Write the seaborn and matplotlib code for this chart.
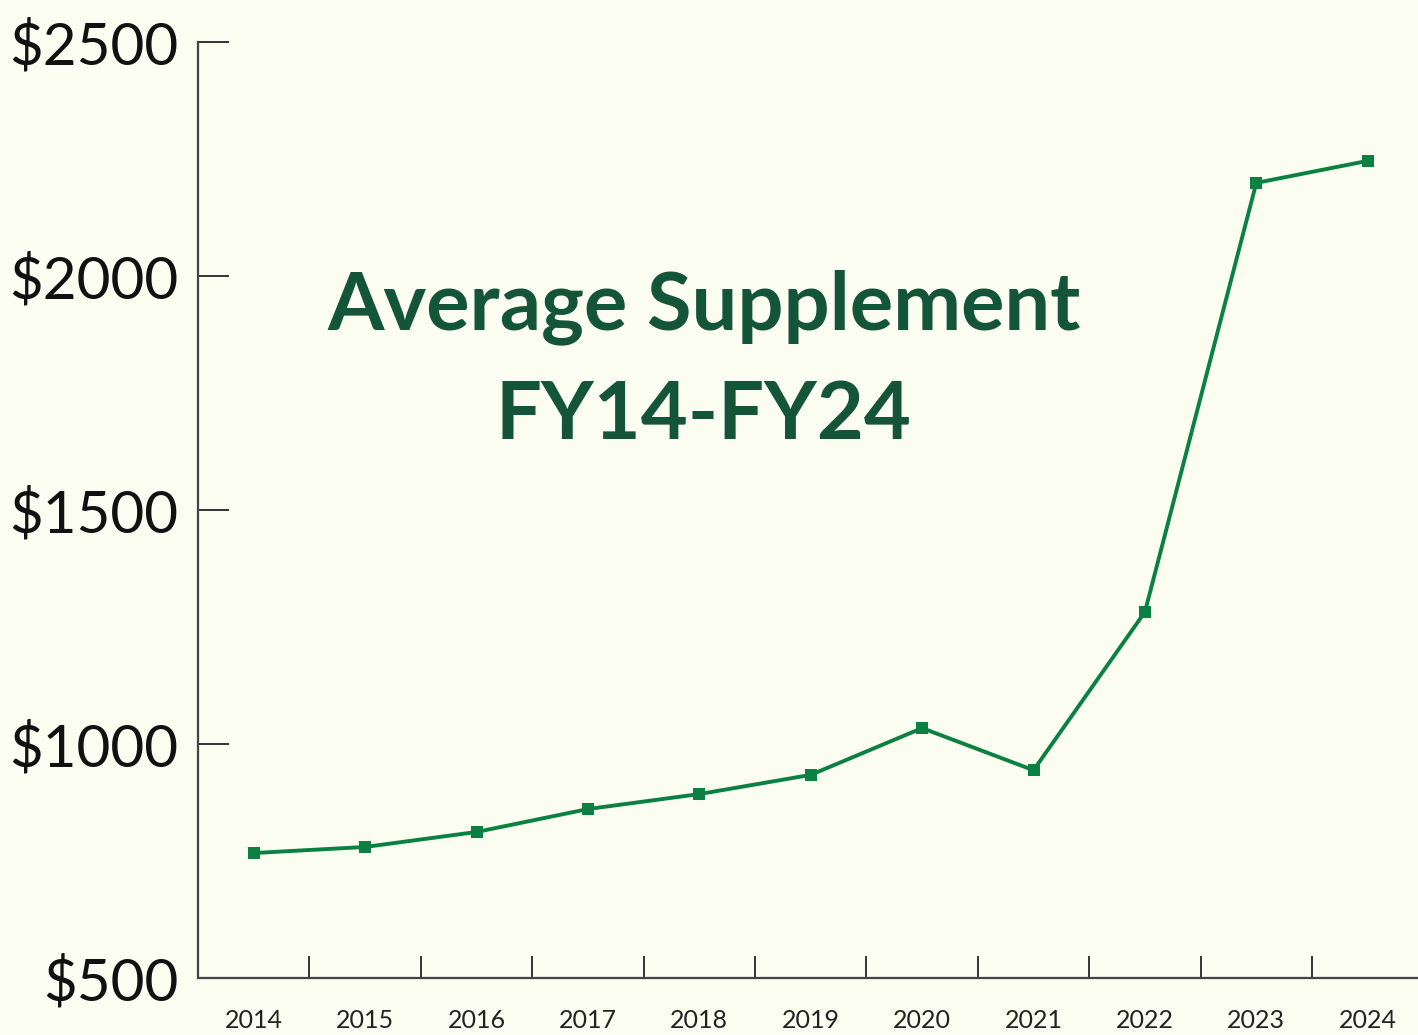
import matplotlib
matplotlib.use("Agg")
import matplotlib.pyplot as plt
import seaborn as sns
import pandas as pd

years = [2014, 2015, 2016, 2017, 2018, 2019, 2020, 2021, 2022, 2023, 2024]
avg_supplement = [767, 780, 812, 861, 893, 934, 1034, 944, 1282, 2199, 2246]
y_ticks = [500, 1000, 1500, 2000, 2500]
y_labels = ["$500", "$1000", "$1500", "$2000", "$2500"]
title = "Average Supplement\nFY14-FY24"

bg = "#fbfdf1"
green = "#0b8043"
title_color = "#14553a"

sns.set_theme(style="white")
plt.rcParams["font.family"] = ["Lato", "DejaVu Sans"]

df = pd.DataFrame({"year": years, "value": avg_supplement})

fig = plt.figure(figsize=(14.18, 10.35), dpi=100, facecolor=bg)
ax = fig.add_axes([198 / 1418, 1 - 978 / 1035, 11 * 111.4 / 1418, (978 - 42) / 1035])
ax.set_facecolor(bg)

sns.lineplot(data=df, x="year", y="value", ax=ax, color=green, linewidth=2.8,
             marker="s", markersize=8, markeredgewidth=0, markerfacecolor=green)

ax.set_xlim(2013.5, 2024.5)
ax.set_ylim(500, 2500)
ax.set_xlabel("")
ax.set_ylabel("")

ax.set_yticks(y_ticks)
ax.set_yticklabels(y_labels, fontsize=42, color="#111111")
ax.tick_params(axis="y", left=True, direction="in", length=22, width=1.4, color="#333333", pad=14)

ax.set_xticks([y + 0.5 for y in years[:-1]])
ax.set_xticklabels([])
ax.set_xticks(years, minor=True)
ax.set_xticklabels([str(y) for y in years], minor=True, fontsize=18, color="#222222")
ax.tick_params(axis="x", which="major", bottom=True, direction="in", length=16, width=1.4, color="#333333")
ax.tick_params(axis="x", which="minor", bottom=True, length=0, pad=22)

for s in ["top", "right"]:
    ax.spines[s].set_visible(False)
for s in ["left", "bottom"]:
    ax.spines[s].set_color("#444444")
    ax.spines[s].set_linewidth(1.6)

fig.text(704 / 1418, 1 - 361 / 1035, title, ha="center", va="center",
         fontsize=58.5, fontweight="bold", color=title_color, linespacing=1.56)

fig.savefig("out.png", dpi=100, facecolor=bg)
